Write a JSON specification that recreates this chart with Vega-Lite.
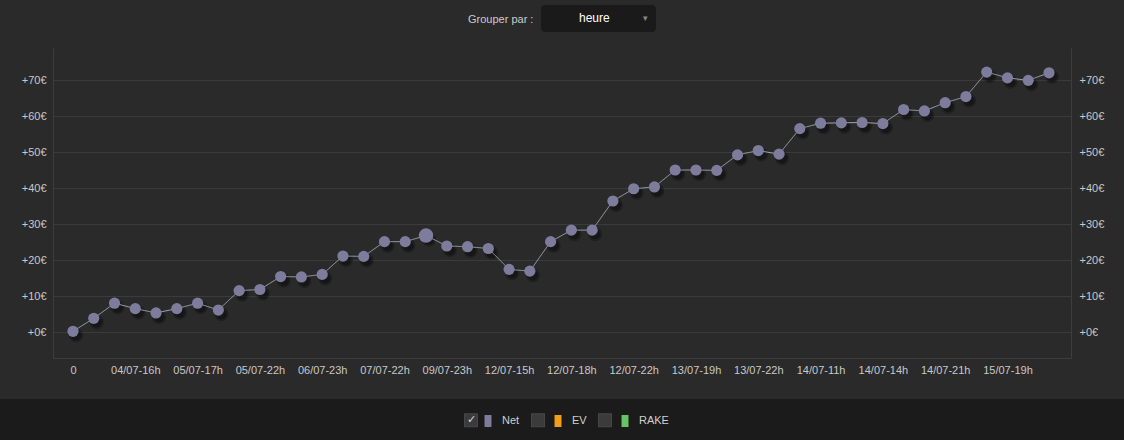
{
  "$schema": "https://vega.github.io/schema/vega-lite/v6.json",
  "background": "#2a2a2a",
  "padding": {"left": 0, "top": 4, "right": 0, "bottom": 0},
  "autosize": {"type": "pad"},
  "bounds": "flush",
  "center": true,
  "spacing": 41,
  "vconcat": [
    {
      "width": 1018,
      "height": 310,
      "title": {"text": "Grouper par :", "anchor": "start", "frame": "group", "dx": 415, "offset": 12, "baseline": "bottom", "fontSize": 11, "fontWeight": "normal", "color": "#cccccc", "font": "Liberation Sans"},
      "view": {"stroke": null},
      "data": {"values": [
        {"i": 0, "label": "0", "net": 0.2, "serie": "Net"},
        {"i": 1, "net": 3.8, "serie": "Net"},
        {"i": 2, "net": 8.0, "serie": "Net"},
        {"i": 3, "label": "04/07-16h", "net": 6.5, "serie": "Net"},
        {"i": 4, "net": 5.3, "serie": "Net"},
        {"i": 5, "net": 6.5, "serie": "Net"},
        {"i": 6, "label": "05/07-17h", "net": 8.0, "serie": "Net"},
        {"i": 7, "net": 6.1, "serie": "Net"},
        {"i": 8, "net": 11.5, "serie": "Net"},
        {"i": 9, "label": "05/07-22h", "net": 11.8, "serie": "Net"},
        {"i": 10, "net": 15.4, "serie": "Net"},
        {"i": 11, "net": 15.3, "serie": "Net"},
        {"i": 12, "label": "06/07-23h", "net": 16.0, "serie": "Net"},
        {"i": 13, "net": 21.1, "serie": "Net"},
        {"i": 14, "net": 21.0, "serie": "Net"},
        {"i": 15, "label": "07/07-22h", "net": 25.1, "serie": "Net"},
        {"i": 16, "net": 25.1, "serie": "Net"},
        {"i": 17, "net": 26.8, "serie": "Net"},
        {"i": 18, "label": "09/07-23h", "net": 23.9, "serie": "Net"},
        {"i": 19, "net": 23.7, "serie": "Net"},
        {"i": 20, "net": 23.2, "serie": "Net"},
        {"i": 21, "label": "12/07-15h", "net": 17.4, "serie": "Net"},
        {"i": 22, "net": 16.9, "serie": "Net"},
        {"i": 23, "net": 25.1, "serie": "Net"},
        {"i": 24, "label": "12/07-18h", "net": 28.3, "serie": "Net"},
        {"i": 25, "net": 28.3, "serie": "Net"},
        {"i": 26, "net": 36.4, "serie": "Net"},
        {"i": 27, "label": "12/07-22h", "net": 39.8, "serie": "Net"},
        {"i": 28, "net": 40.3, "serie": "Net"},
        {"i": 29, "net": 45.0, "serie": "Net"},
        {"i": 30, "label": "13/07-19h", "net": 45.0, "serie": "Net"},
        {"i": 31, "net": 44.9, "serie": "Net"},
        {"i": 32, "net": 49.2, "serie": "Net"},
        {"i": 33, "label": "13/07-22h", "net": 50.4, "serie": "Net"},
        {"i": 34, "net": 49.4, "serie": "Net"},
        {"i": 35, "net": 56.5, "serie": "Net"},
        {"i": 36, "label": "14/07-11h", "net": 58.0, "serie": "Net"},
        {"i": 37, "net": 58.1, "serie": "Net"},
        {"i": 38, "net": 58.2, "serie": "Net"},
        {"i": 39, "label": "14/07-14h", "net": 57.9, "serie": "Net"},
        {"i": 40, "net": 61.8, "serie": "Net"},
        {"i": 41, "net": 61.4, "serie": "Net"},
        {"i": 42, "label": "14/07-21h", "net": 63.7, "serie": "Net"},
        {"i": 43, "net": 65.4, "serie": "Net"},
        {"i": 44, "net": 72.2, "serie": "Net"},
        {"i": 45, "label": "15/07-19h", "net": 70.6, "serie": "Net"},
        {"i": 46, "net": 69.9, "serie": "Net"},
        {"i": 47, "net": 72.0, "serie": "Net"}
      ]},
      "encoding": {
        "x": {
          "field": "i", "type": "quantitative",
          "scale": {"domain": [-0.963, 48.059], "nice": false, "zero": false},
          "axis": {
            "title": null, "grid": false, "ticks": false,
            "values": [0, 3, 6, 9, 12, 15, 18, 21, 24, 27, 30, 33, 36, 39, 42, 45],
            "labelExpr": "['0','04/07-16h','05/07-17h','05/07-22h','06/07-23h','07/07-22h','09/07-23h','12/07-15h','12/07-18h','12/07-22h','13/07-19h','13/07-22h','14/07-11h','14/07-14h','14/07-21h','15/07-19h'][round(datum.value / 3)]",
            "labelColor": "#c8c8c8", "labelFontSize": 11, "labelFont": "Liberation Sans",
            "labelPadding": 6, "labelFlush": false, "labelOverlap": false,
            "domainColor": "#3d3d3d", "domainWidth": 1
          }
        }
      },
      "layer": [
        {
          "mark": {"type": "point", "filled": true, "color": "#0a0a0a", "opacity": 0.3, "size": 200, "xOffset": 3, "yOffset": 4},
          "encoding": {
            "y": {"field": "net", "type": "quantitative", "scale": {"domain": [-7.22, 78.89], "nice": false, "zero": false}, "axis": null}
          }
        },
        {
          "mark": {"type": "point", "filled": true, "color": "#0a0a0a", "opacity": 0.45, "size": 110, "xOffset": 3, "yOffset": 4},
          "encoding": {
            "y": {"field": "net", "type": "quantitative", "axis": null}
          }
        },
        {
          "mark": {"type": "line", "color": "#a4a4b2", "strokeWidth": 1},
          "encoding": {
            "y": {
              "field": "net", "type": "quantitative",
              "axis": {
                "orient": "right", "title": null, "grid": false, "ticks": false,
                "values": [0, 10, 20, 30, 40, 50, 60, 70],
                "labelExpr": "'+' + datum.value + '€'",
                "labelColor": "#c8c8c8", "labelFontSize": 11, "labelFont": "Liberation Sans",
                "labelPadding": 8, "domainColor": "#3d3d3d"
              }
            },
            "strokeDash": {
              "field": "serie", "type": "nominal",
              "scale": {"domain": ["Net", "RAKE", "EV"], "range": [[1, 0], [1, 0], [1, 0]]},
              "legend": {
                "orient": "none", "legendX": 464, "legendY": 365, "direction": "horizontal", "title": null,
                "symbolType": "square", "symbolSize": 169, "symbolFillColor": "#3b3b3b", "symbolStrokeColor": "#4e4e4e", "symbolStrokeWidth": 1,
                "labelExpr": "datum.value === 'Net' ? '✓' : ''", "labelOffset": -11, "labelColor": "#d8d8d8", "labelFontSize": 11,
                "columnPadding": 49, "padding": 0, "zindex": 2
              }
            },
            "opacity": {
              "datum": "heure", "type": "ordinal",
              "scale": {"range": [1]},
              "legend": {
                "orient": "none", "legendX": 541, "legendY": -43,
                "title": "▾", "titleOrient": "right", "titleColor": "#8a8a8a", "titleFontSize": 9, "titleFontWeight": "normal", "titlePadding": 33,
                "symbolSize": 1, "symbolOpacity": 0, "symbolFillColor": "transparent", "symbolStrokeColor": "transparent", "symbolStrokeWidth": 0,
                "labelColor": "#ffffff", "labelFontSize": 12, "labelFont": "Liberation Sans", "labelOffset": 19,
                "padding": 7, "fillColor": "#1a1a1a", "strokeColor": "#1a1a1a", "cornerRadius": 3, "zindex": 2
              }
            }
          }
        },
        {
          "mark": {"type": "point", "filled": true, "opacity": 1},
          "encoding": {
            "y": {
              "field": "net", "type": "quantitative",
              "axis": {
                "orient": "left", "title": null, "grid": true, "gridColor": "#3b3b3b", "ticks": false,
                "values": [0, 10, 20, 30, 40, 50, 60, 70],
                "labelExpr": "'+' + datum.value + '€'",
                "labelColor": "#c8c8c8", "labelFontSize": 11, "labelFont": "Liberation Sans",
                "labelPadding": 7, "domainColor": "#3d3d3d"
              }
            },
            "color": {
              "field": "serie", "type": "nominal",
              "scale": {"domain": ["Net", "EV", "RAKE"], "range": ["#7e7c9c", "#f29e1a", "#66c466"]},
              "legend": {
                "orient": "none", "legendX": 482, "legendY": 367, "direction": "horizontal", "title": null,
                "symbolType": "M-0.58,-1H0.58V1H-0.58Z", "symbolSize": 144, "symbolStrokeWidth": 0, "symbolOpacity": 1,
                "labelColor": "#d0d0d0", "labelFontSize": 11, "labelFont": "Liberation Sans", "labelOffset": 8,
                "columnPadding": 32, "padding": 0, "zindex": 3
              }
            },
            "size": {"condition": {"test": "datum.i === 17", "value": 210}, "value": 125}
          }
        }
      ],
      "resolve": {"axis": {"y": "independent"}}
    },
    {
      "width": 1124,
      "height": 42,
      "view": {"fill": "#1b1b1b", "stroke": null},
      "data": {"values": []},
      "mark": "point"
    }
  ],
  "config": {"view": {"stroke": null}, "font": "Liberation Sans"}
}
